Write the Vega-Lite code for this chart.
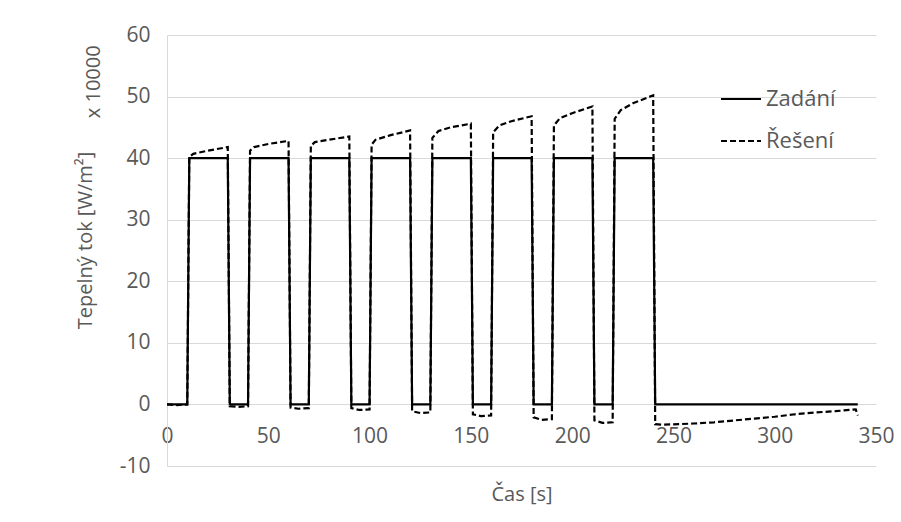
{
  "$schema": "https://vega.github.io/schema/vega-lite/v6.json",
  "width": 709,
  "height": 431,
  "autosize": {"type": "none"},
  "padding": {"left": 167, "top": 35, "right": 25, "bottom": 56},
  "background": "white",
  "config": {
    "font": "Open Sans",
    "view": {"stroke": null},
    "axis": {"labelColor": "#595959", "titleColor": "#595959", "labelFontSize": 21, "titleFontSize": 20, "titleFontWeight": "normal", "labelFont": "Open Sans", "titleFont": "Open Sans"}
  },
  "datasets": {
    "series": [
      {"t": 0, "v": 0, "s": "Zadání"}, {"t": 10, "v": 0, "s": "Zadání"}, {"t": 11, "v": 40, "s": "Zadání"}, {"t": 30, "v": 40, "s": "Zadání"},
      {"t": 31, "v": 0, "s": "Zadání"}, {"t": 40, "v": 0, "s": "Zadání"}, {"t": 41, "v": 40, "s": "Zadání"}, {"t": 60, "v": 40, "s": "Zadání"},
      {"t": 61, "v": 0, "s": "Zadání"}, {"t": 70, "v": 0, "s": "Zadání"}, {"t": 71, "v": 40, "s": "Zadání"}, {"t": 90, "v": 40, "s": "Zadání"},
      {"t": 91, "v": 0, "s": "Zadání"}, {"t": 100, "v": 0, "s": "Zadání"}, {"t": 101, "v": 40, "s": "Zadání"}, {"t": 120, "v": 40, "s": "Zadání"},
      {"t": 121, "v": 0, "s": "Zadání"}, {"t": 130, "v": 0, "s": "Zadání"}, {"t": 131, "v": 40, "s": "Zadání"}, {"t": 150, "v": 40, "s": "Zadání"},
      {"t": 151, "v": 0, "s": "Zadání"}, {"t": 160, "v": 0, "s": "Zadání"}, {"t": 161, "v": 40, "s": "Zadání"}, {"t": 180, "v": 40, "s": "Zadání"},
      {"t": 181, "v": 0, "s": "Zadání"}, {"t": 190, "v": 0, "s": "Zadání"}, {"t": 191, "v": 40, "s": "Zadání"}, {"t": 210, "v": 40, "s": "Zadání"},
      {"t": 211, "v": 0, "s": "Zadání"}, {"t": 220, "v": 0, "s": "Zadání"}, {"t": 221, "v": 40, "s": "Zadání"}, {"t": 240, "v": 40, "s": "Zadání"},
      {"t": 241, "v": 0, "s": "Zadání"}, {"t": 341, "v": 0, "s": "Zadání"},
      {"t": 0, "v": 0, "s": "Řešení"}, {"t": 5, "v": -0.1, "s": "Řešení"}, {"t": 10, "v": 0, "s": "Řešení"},
      {"t": 11, "v": 40.2, "s": "Řešení"}, {"t": 13, "v": 40.7, "s": "Řešení"}, {"t": 20, "v": 41.2, "s": "Řešení"}, {"t": 30, "v": 41.8, "s": "Řešení"},
      {"t": 31, "v": -0.3, "s": "Řešení"}, {"t": 35, "v": -0.4, "s": "Řešení"}, {"t": 40, "v": -0.3, "s": "Řešení"},
      {"t": 41, "v": 41.2, "s": "Řešení"}, {"t": 43, "v": 41.8, "s": "Řešení"}, {"t": 50, "v": 42.3, "s": "Řešení"}, {"t": 60, "v": 42.8, "s": "Řešení"},
      {"t": 61, "v": -0.5, "s": "Řešení"}, {"t": 65, "v": -0.7, "s": "Řešení"}, {"t": 70, "v": -0.6, "s": "Řešení"},
      {"t": 71, "v": 42.0, "s": "Řešení"}, {"t": 73, "v": 42.6, "s": "Řešení"}, {"t": 80, "v": 43.0, "s": "Řešení"}, {"t": 90, "v": 43.5, "s": "Řešení"},
      {"t": 91, "v": -0.6, "s": "Řešení"}, {"t": 95, "v": -0.9, "s": "Řešení"}, {"t": 100, "v": -0.8, "s": "Řešení"},
      {"t": 101, "v": 42.2, "s": "Řešení"}, {"t": 103, "v": 43.0, "s": "Řešení"}, {"t": 110, "v": 43.7, "s": "Řešení"}, {"t": 120, "v": 44.5, "s": "Řešení"},
      {"t": 121, "v": -1.1, "s": "Řešení"}, {"t": 125, "v": -1.4, "s": "Řešení"}, {"t": 130, "v": -1.3, "s": "Řešení"},
      {"t": 131, "v": 43.3, "s": "Řešení"}, {"t": 134, "v": 44.4, "s": "Řešení"}, {"t": 140, "v": 45.0, "s": "Řešení"}, {"t": 150, "v": 45.6, "s": "Řešení"},
      {"t": 151, "v": -1.6, "s": "Řešení"}, {"t": 155, "v": -1.9, "s": "Řešení"}, {"t": 160, "v": -1.8, "s": "Řešení"},
      {"t": 161, "v": 44.2, "s": "Řešení"}, {"t": 164, "v": 45.3, "s": "Řešení"}, {"t": 170, "v": 46.0, "s": "Řešení"}, {"t": 180, "v": 46.8, "s": "Řešení"},
      {"t": 181, "v": -2.1, "s": "Řešení"}, {"t": 185, "v": -2.5, "s": "Řešení"}, {"t": 190, "v": -2.4, "s": "Řešení"},
      {"t": 191, "v": 45.3, "s": "Řešení"}, {"t": 194, "v": 46.5, "s": "Řešení"}, {"t": 200, "v": 47.3, "s": "Řešení"}, {"t": 210, "v": 48.4, "s": "Řešení"},
      {"t": 211, "v": -2.6, "s": "Řešení"}, {"t": 215, "v": -3.0, "s": "Řešení"}, {"t": 220, "v": -2.9, "s": "Řešení"},
      {"t": 221, "v": 46.4, "s": "Řešení"}, {"t": 224, "v": 47.8, "s": "Řešení"}, {"t": 230, "v": 48.9, "s": "Řešení"}, {"t": 240, "v": 50.2, "s": "Řešení"},
      {"t": 241, "v": -3.2, "s": "Řešení"}, {"t": 245, "v": -3.3, "s": "Řešení"}, {"t": 260, "v": -3.1, "s": "Řešení"}, {"t": 270, "v": -2.9, "s": "Řešení"},
      {"t": 280, "v": -2.6, "s": "Řešení"}, {"t": 290, "v": -2.3, "s": "Řešení"}, {"t": 300, "v": -2.0, "s": "Řešení"}, {"t": 310, "v": -1.6, "s": "Řešení"},
      {"t": 320, "v": -1.3, "s": "Řešení"}, {"t": 330, "v": -1.1, "s": "Řešení"}, {"t": 340, "v": -0.8, "s": "Řešení"}, {"t": 341, "v": -1.8, "s": "Řešení"}
    ],
    "unit": [{"label": "x 10000"}]
  },
  "layer": [
    {
      "data": {"name": "series"},
      "mark": {"type": "line", "strokeWidth": 2.2, "color": "black"},
      "encoding": {
        "x": {
          "field": "t", "type": "quantitative",
          "scale": {"domain": [0, 350], "nice": false, "zero": false},
          "axis": {
            "values": [0, 50, 100, 150, 200, 250, 300, 350],
            "grid": false, "ticks": false, "domain": false,
            "offset": -62, "labelPadding": 21,
            "title": "Čas [s]", "titleY": 90, "titleBaseline": "middle",
            "labelFlush": false
          }
        },
        "y": {
          "field": "v", "type": "quantitative",
          "scale": {"domain": [-10, 60], "nice": false, "zero": false},
          "axis": {
            "values": [-10, 0, 10, 20, 30, 40, 50, 60],
            "labelExpr": "'' + datum.value",
            "grid": true, "gridColor": "#d9d9d9", "gridWidth": 1,
            "ticks": false, "domain": true, "domainColor": "#d9d9d9", "domainWidth": 1,
            "labelPadding": 17,
            "title": "Tepelný tok [W/m²]", "titleX": -82, "titleY": 205,
            "titleAngle": 270, "titleAlign": "center", "titleBaseline": "middle"
          }
        },
        "detail": {"field": "s"},
        "order": {"field": "t", "type": "quantitative"},
        "strokeDash": {
          "field": "s", "type": "nominal",
          "scale": {"domain": ["Zadání", "Řešení"], "range": [[1, 0], [6, 3]]},
          "legend": {
            "title": null, "orient": "none", "legendX": 553, "legendY": 43,
            "symbolType": "stroke", "symbolSize": 1600, "symbolStrokeWidth": 2,
            "symbolStrokeColor": "black", "labelFontSize": 22, "labelColor": "#595959",
            "labelFont": "Open Sans", "labelOffset": 4, "rowPadding": 10, "padding": 0
          }
        }
      }
    },
    {
      "data": {"name": "unit"},
      "mark": {"type": "text", "angle": 270, "fontSize": 20, "color": "#595959", "font": "Open Sans", "align": "center", "baseline": "middle"},
      "encoding": {
        "x": {"datum": -36},
        "y": {"datum": 52.4},
        "text": {"field": "label"}
      }
    }
  ]
}
